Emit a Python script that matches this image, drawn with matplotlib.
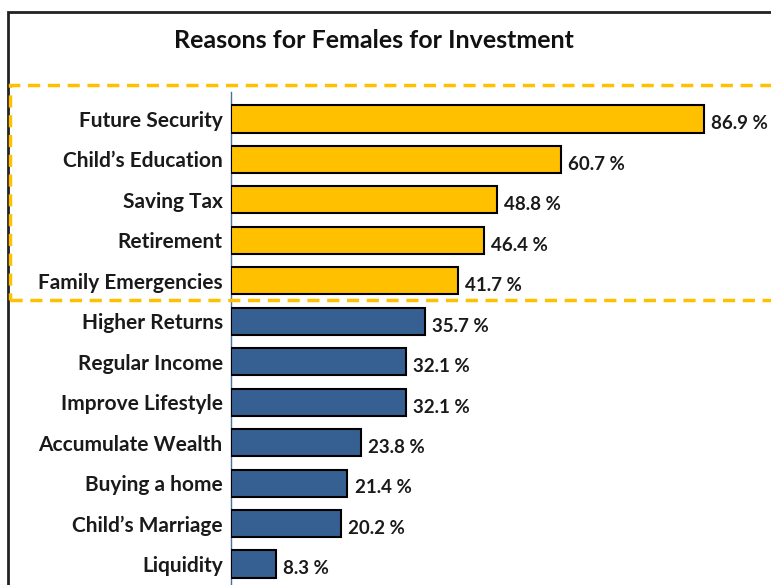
import matplotlib.pyplot as plt
from matplotlib.patches import Rectangle

reasons = ["Future Security", "Child\u2019s Education", "Saving Tax", "Retirement",
           "Family Emergencies", "Higher Returns", "Regular Income", "Improve Lifestyle",
           "Accumulate Wealth", "Buying a home", "Child\u2019s Marriage", "Liquidity"]
percent = [86.9, 60.7, 48.8, 46.4, 41.7, 35.7, 32.1, 32.1, 23.8, 21.4, 20.2, 8.3]
n_top = 5

gold = '#FFC000'
blue = '#376092'

plt.rcParams['font.family'] = ['Lato', 'DejaVu Sans']

fig = plt.figure(figsize=(7.71, 5.85), dpi=100)
ax = fig.add_axes([231 / 771, 0, 540 / 771, 493 / 585])

colors = [gold if i < n_top else blue for i in range(len(reasons))]
ypos = list(range(len(reasons)))
ax.barh(ypos, percent, height=0.67, color=colors, edgecolor='black', linewidth=1.5, zorder=3)

for y, v in zip(ypos, percent):
    ax.text(v + 1.3, y + 0.12, f"{v} %", va='center', ha='left',
            fontsize=13.5, fontweight='bold', color='#1a1a1a')

ax.set_xlim(0, 99.2)
ax.set_ylim(11.52, -0.667)
ax.set_yticks(ypos)
ax.set_yticklabels(reasons, fontsize=15, fontweight='bold', color='#1a1a1a')
ax.tick_params(axis='y', length=0, pad=6)
ax.set_xticks([])
for s in ['top', 'right', 'bottom']:
    ax.spines[s].set_visible(False)
ax.spines['left'].set_color('#4a6fa5')
ax.spines['left'].set_linewidth(1)

fig.text(374 / 771, 1 - 40 / 585, "Reasons for Females for Investment", ha='center', va='center',
         fontsize=18, fontweight='bold', color='#111111')

# outer frame
fig.patches.append(Rectangle((8 / 771, -0.1), 2, 1 - 12 / 585 + 0.1, transform=fig.transFigure,
                             fill=False, edgecolor='#222222', linewidth=2, zorder=0))
# dashed highlight box
fig.patches.append(Rectangle((10 / 771, 1 - 300 / 585), 2, 215 / 585, transform=fig.transFigure,
                             fill=False, edgecolor=gold, linewidth=2.5, linestyle=(0, (3.5, 2.2)), zorder=5))

fig.savefig("out.png", dpi=100)
